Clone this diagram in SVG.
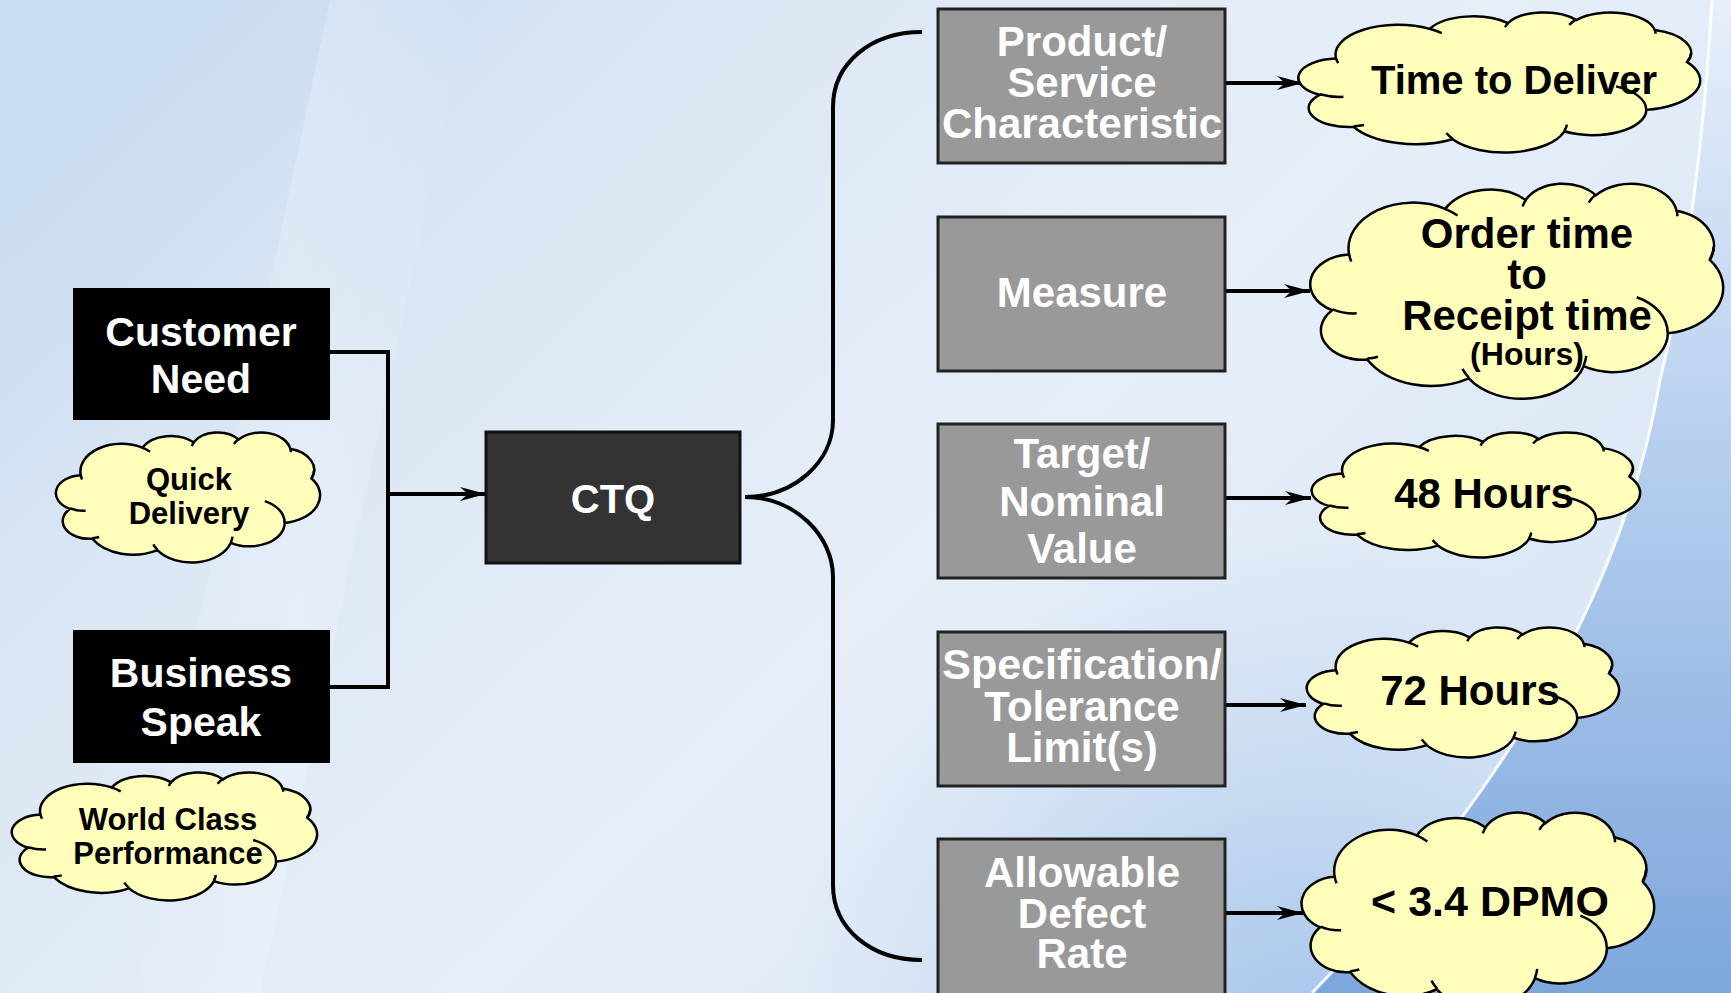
<svg xmlns="http://www.w3.org/2000/svg" xmlns:xlink="http://www.w3.org/1999/xlink" width="1731" height="993" viewBox="0 0 1731 993">
<style>
.t{font-family:"Liberation Sans",Arial,sans-serif;font-weight:bold;text-anchor:middle}
.w{fill:#ffffff;font-size:41px}
.g{fill:#ffffff;font-size:42px}
.k{fill:#000000;font-size:42px}
.ks{fill:#000000;font-size:31px}
.dark{fill:#000000}
.ctq{fill:#333333;stroke:#111111;stroke-width:3}
.gray{fill:#999999;stroke:#222222;stroke-width:3}
.conn{fill:none;stroke:#000000;stroke-width:4}
.cl{fill:#ffffbb;stroke:#000000;stroke-width:2.5}
.ci{fill:none;stroke:#000000;stroke-width:2.5}
</style>
<defs>
<linearGradient id="bg" x1="0" y1="0.2" x2="1" y2="0.8">
<stop offset="0" stop-color="#cadcf1"/>
<stop offset="0.25" stop-color="#dde8f5"/>
<stop offset="0.55" stop-color="#e6eef8"/>
<stop offset="1" stop-color="#d8e5f5"/>
</linearGradient>
<linearGradient id="band" x1="0" y1="0" x2="1" y2="0">
<stop offset="0" stop-color="#ffffff" stop-opacity="0"/>
<stop offset="0.5" stop-color="#ffffff" stop-opacity="0.22"/>
<stop offset="1" stop-color="#ffffff" stop-opacity="0"/>
</linearGradient>
<linearGradient id="rgt" x1="0" y1="0" x2="0" y2="1">
<stop offset="0" stop-color="#e8effa"/>
<stop offset="0.4" stop-color="#bcd3f0"/>
<stop offset="1" stop-color="#7da7dc"/>
</linearGradient>
<radialGradient id="bot" cx="1300" cy="1050" r="520" gradientUnits="userSpaceOnUse">
<stop offset="0" stop-color="#9dbfe8" stop-opacity="0.9"/>
<stop offset="1" stop-color="#b8d0ee" stop-opacity="0"/>
</radialGradient>
<marker id="ah" markerUnits="userSpaceOnUse" markerWidth="28" markerHeight="16" refX="26" refY="8" orient="auto">
<path d="M0,1 L26,8 L0,15 L8,8 Z" fill="#000000"/>
</marker>
<path id="cloud" class="cl" vector-effect="non-scaling-stroke" d="M3900,14370 A6753,9190 0 0 1 14005,5202 A5333,7267 0 0 1 22456,3431 A4365,5945 0 0 1 29834,2480 A4857,6595 0 0 1 38319,5576 A5333,7273 0 0 1 41819,15460 A6775,9220 0 0 1 37404,30201 A5785,7867 0 0 1 28556,36812 A6752,9215 0 0 1 16481,39264 A7720,10543 0 0 1 5805,35470 A4360,5918 0 0 1 2114,25548 A4345,5945 0 0 1 3900,14370 Z"/>
<path id="cin" class="ci" vector-effect="non-scaling-stroke" d="M4693,26177 A4345,5945 0 0 1 2160,25380 M6928,34899 A4360,5918 0 0 1 5820,35281 M16478,39090 A6752,9215 0 0 1 15810,37349 M28827,34751 A6752,9215 0 0 1 28560,36660 M34129,22954 A5785,7867 0 0 1 37381,30090 M41798,15354 A5333,7273 0 0 0 42227,12726 M38324,5426 A4857,6595 0 0 1 38401,6690 M29078,3952 A4857,6595 0 0 1 29821,2339 M22141,4720 A4365,5945 0 0 1 22500,3331 M14000,5192 A6753,9190 0 0 1 15300,6540 M4127,15789 A6753,9190 0 0 1 3900,14371"/>
</defs>

<g id="background">
<rect x="0" y="0" width="1731" height="993" fill="url(#bg)"/>
<polygon points="330,0 470,0 260,993 120,993" fill="url(#band)"/>
<rect x="0" y="0" width="1731" height="993" fill="url(#bot)"/>
<path d="M1312,993 C1470,830 1620,620 1660,380 C1690,260 1705,120 1712,0 H1731 V993 Z" fill="url(#rgt)"/>
<path d="M1312,993 C1470,830 1620,620 1660,380 C1690,260 1705,120 1712,0" fill="none" stroke="#ffffff" stroke-width="3" stroke-opacity="0.9"/>
</g>

<g id="connectors">
<path class="conn" d="M330,352 H388 V687 H330"/>
<path class="conn" d="M388,494 H486" marker-end="url(#ah)"/>
<path class="conn" d="M745,497 C794,497 833,462 833,420 V107 C833,64 870,32 922,32"/>
<path class="conn" d="M745,497 C794,497 833,535 833,577 V885 C833,928 870,960 922,960"/>
<path class="conn" d="M1225,83 H1303" marker-end="url(#ah)"/>
<path class="conn" d="M1225,291 H1310" marker-end="url(#ah)"/>
<path class="conn" d="M1225,498 H1311" marker-end="url(#ah)"/>
<path class="conn" d="M1225,705 H1306" marker-end="url(#ah)"/>
<path class="conn" d="M1225,913 H1303" marker-end="url(#ah)"/>
</g>

<g id="customer-need">
<rect class="dark" x="73" y="288" width="257" height="132"/>
<text class="t w" x="201" y="346">Customer</text>
<text class="t w" x="201" y="393">Need</text>
</g>

<g id="quick-delivery">
<g transform="matrix(0.006088 0 0 0.0030093 57 432)"><use xlink:href="#cloud"/><use xlink:href="#cin"/></g>
<text class="t ks" x="189" y="490">Quick</text>
<text class="t ks" x="189" y="524">Delivery</text>
</g>

<g id="business-speak">
<rect class="dark" x="73" y="630" width="257" height="133"/>
<text class="t w" x="201" y="687">Business</text>
<text class="t w" x="201" y="736">Speak</text>
</g>

<g id="world-class">
<g transform="matrix(0.007037 0 0 0.002963 13 772)"><use xlink:href="#cloud"/><use xlink:href="#cin"/></g>
<text class="t ks" x="168" y="830">World Class</text>
<text class="t ks" x="168" y="864">Performance</text>
</g>

<g id="ctq">
<rect class="ctq" x="486" y="432" width="254" height="131"/>
<text class="t" x="613" y="513" style="fill:#ffffff;font-size:40px">CTQ</text>
</g>

<g id="product-service">
<rect class="gray" x="938" y="9" width="287" height="154"/>
<text class="t g" x="1082" y="56">Product/</text>
<text class="t g" x="1082" y="97">Service</text>
<text class="t g" x="1082" y="138">Characteristic</text>
</g>

<g id="measure">
<rect class="gray" x="938" y="217" width="287" height="154"/>
<text class="t g" x="1082" y="307">Measure</text>
</g>

<g id="target">
<rect class="gray" x="938" y="424" width="287" height="154"/>
<text class="t g" x="1082" y="468">Target/</text>
<text class="t g" x="1082" y="516">Nominal</text>
<text class="t g" x="1082" y="563">Value</text>
</g>

<g id="specification">
<rect class="gray" x="938" y="632" width="287" height="154"/>
<text class="t g" x="1082" y="679" style="font-size:43px">Specification/</text>
<text class="t g" x="1082" y="721">Tolerance</text>
<text class="t g" x="1082" y="762">Limit(s)</text>
</g>

<g id="defect-rate">
<rect class="gray" x="938" y="839" width="287" height="160"/>
<text class="t g" x="1082" y="887">Allowable</text>
<text class="t g" x="1082" y="928">Defect</text>
<text class="t g" x="1082" y="968">Rate</text>
</g>

<g id="time-to-deliver">
<g transform="matrix(0.0092593 0 0 0.0032407 1300 12)"><use xlink:href="#cloud"/><use xlink:href="#cin"/></g>
<text class="t k" x="1514" y="94" style="font-size:40px">Time to Deliver</text>
</g>

<g id="order-time">
<g transform="matrix(0.0095139 0 0 0.0049769 1312 183)"><use xlink:href="#cloud"/><use xlink:href="#cin"/></g>
<text class="t k" x="1527" y="248">Order time</text>
<text class="t k" x="1527" y="289">to</text>
<text class="t k" x="1527" y="330">Receipt time</text>
<text class="t" x="1527" y="365" style="font-size:32px;fill:#000000">(Hours)</text>
</g>

<g id="hours-48">
<g transform="matrix(0.0075694 0 0 0.0028935 1313 432)"><use xlink:href="#cloud"/><use xlink:href="#cin"/></g>
<text class="t k" x="1484" y="508">48 Hours</text>
</g>

<g id="hours-72">
<g transform="matrix(0.0071991 0 0 0.0030093 1308 627)"><use xlink:href="#cloud"/><use xlink:href="#cin"/></g>
<text class="t k" x="1470" y="705">72 Hours</text>
</g>

<g id="dpmo">
<g transform="matrix(0.008125 0 0 0.0045139 1303 812)"><use xlink:href="#cloud"/><use xlink:href="#cin"/></g>
<text class="t k" x="1490" y="916" style="font-size:43px">&lt; 3.4 DPMO</text>
</g>
</svg>
